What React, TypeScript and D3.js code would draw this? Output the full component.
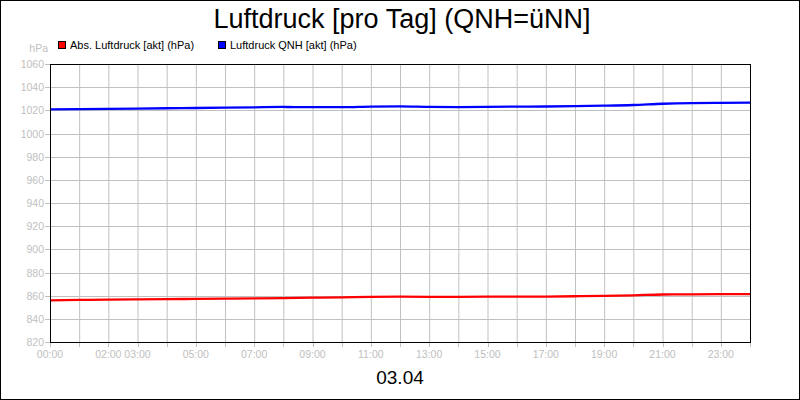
import React from "react";
import * as d3 from "d3";

// hourly readings, 03.04
const hours = [0, 1, 2, 3, 4, 5, 6, 7, 8, 9, 10, 11, 12, 13, 14, 15, 16, 17, 18, 19, 20, 21, 22, 23, 24];
const absPressure = [
  856.0, 856.3, 856.6, 856.8, 857.0, 857.2, 857.4, 857.6, 857.9, 858.3, 858.6, 859.0, 859.1,
  859.0, 859.0, 859.1, 859.1, 859.2, 859.5, 859.8, 860.3, 861.0, 861.2, 861.3, 861.4,
];
const qnhPressure = [
  1020.9, 1021.0, 1021.2, 1021.5, 1021.8, 1022.0, 1022.3, 1022.6, 1022.9, 1022.7, 1022.7, 1023.2, 1023.4,
  1023.0, 1022.8, 1023.0, 1023.2, 1023.3, 1023.6, 1024.0, 1024.6, 1025.7, 1026.3, 1026.5, 1026.6,
];
const yTicks = [820, 840, 860, 880, 900, 920, 940, 960, 980, 1000, 1020, 1040, 1060];
const xLabelHours = [0, 2, 3, 5, 7, 9, 11, 13, 15, 17, 19, 21, 23];
const seriesNames = ["Abs. Luftdruck [akt] (hPa)", "Luftdruck QNH [akt] (hPa)"];
const seriesColors = ["#ff0000", "#0000ff"];

const W = 800;
const H = 400;
const FONT = "'Liberation Sans', Arial, sans-serif";
const GRID = "#c0c0c0";

export default function App() {
  const margin = { top: 64, right: 50, bottom: 58, left: 50 };

  const x = d3.scaleLinear().domain([0, 24]).range([margin.left, W - margin.right]);
  const y = d3.scaleLinear().domain([820, 1060]).range([H - margin.bottom, margin.top]);

  const line = d3
    .line<number>()
    .x((_, i) => x(hours[i]))
    .y((d) => y(d))
    .curve(d3.curveMonotoneX);

  const series = [absPressure, qnhPressure];
  const [x0, x1] = x.range();
  const [yb, yt] = y.range();

  return (
    <div style={{ position: "absolute", left: 0, top: 0 }}>
      <svg width={W} height={H} style={{ display: "block", background: "#fff" }} fontFamily={FONT}>
        <rect x={0.5} y={0.5} width={W - 1} height={H - 1} fill="#fff" stroke="#000" />

        {/* title */}
        <text x={402} y={28} textAnchor="middle" fontSize={27} fill="#000">
          Luftdruck [pro Tag] (QNH=üNN]
        </text>

        {/* legend */}
        {seriesNames.map((name, i) => (
          <g key={name} transform={`translate(${58 + i * 160},41)`}>
            <rect x={0.5} y={0.5} width={7} height={7} fill={seriesColors[i]} stroke="#000" strokeWidth={1} />
            <text x={12} y={7.5} fontSize={11} fill="#000">
              {name}
            </text>
          </g>
        ))}

        {/* unit */}
        <text x={48} y={52} textAnchor="end" fontSize={10.5} fill={GRID}>
          hPa
        </text>

        {/* grid */}
        {d3.range(1, 24).map((h) => (
          <line key={"v" + h} x1={x(h) + 0.5} x2={x(h) + 0.5} y1={yt} y2={yb} stroke={GRID} />
        ))}
        {yTicks.slice(1, -1).map((v) => (
          <line key={"h" + v} x1={x0} x2={x1} y1={Math.round(y(v)) + 0.5} y2={Math.round(y(v)) + 0.5} stroke={GRID} />
        ))}

        {/* y axis ticks + labels */}
        {yTicks.map((v) => (
          <g key={"yt" + v}>
            <line x1={x0 - 5} x2={x0} y1={Math.round(y(v)) + 0.5} y2={Math.round(y(v)) + 0.5} stroke={GRID} />
            <text x={44} y={y(v) + 4} textAnchor="end" fontSize={10.5} fill={GRID}>
              {v}
            </text>
          </g>
        ))}

        {/* x axis ticks + labels */}
        {d3.range(0, 25).map((h) => (
          <line key={"xt" + h} x1={Math.round(x(h)) + 0.5} x2={Math.round(x(h)) + 0.5} y1={yb} y2={yb + 5} stroke={GRID} />
        ))}
        {xLabelHours.map((h) => (
          <text key={"xl" + h} x={x(h)} y={358} textAnchor="middle" fontSize={10.5} fill={GRID}>
            {String(h).padStart(2, "0")}:00
          </text>
        ))}

        {/* series */}
        {series.map((vals, i) => (
          <path
            key={"s" + i}
            d={line(vals) || ""}
            fill="none"
            stroke={seriesColors[i]}
            strokeWidth={2.3}
            strokeLinejoin="round"
          />
        ))}

        {/* plot frame */}
        <rect x={x0 + 0.5} y={yt + 0.5} width={x1 - x0} height={yb - yt} fill="none" stroke="#000" />

        {/* date */}
        <text x={400} y={384} textAnchor="middle" fontSize={19} fill="#000">
          03.04
        </text>
      </svg>
    </div>
  );
}
